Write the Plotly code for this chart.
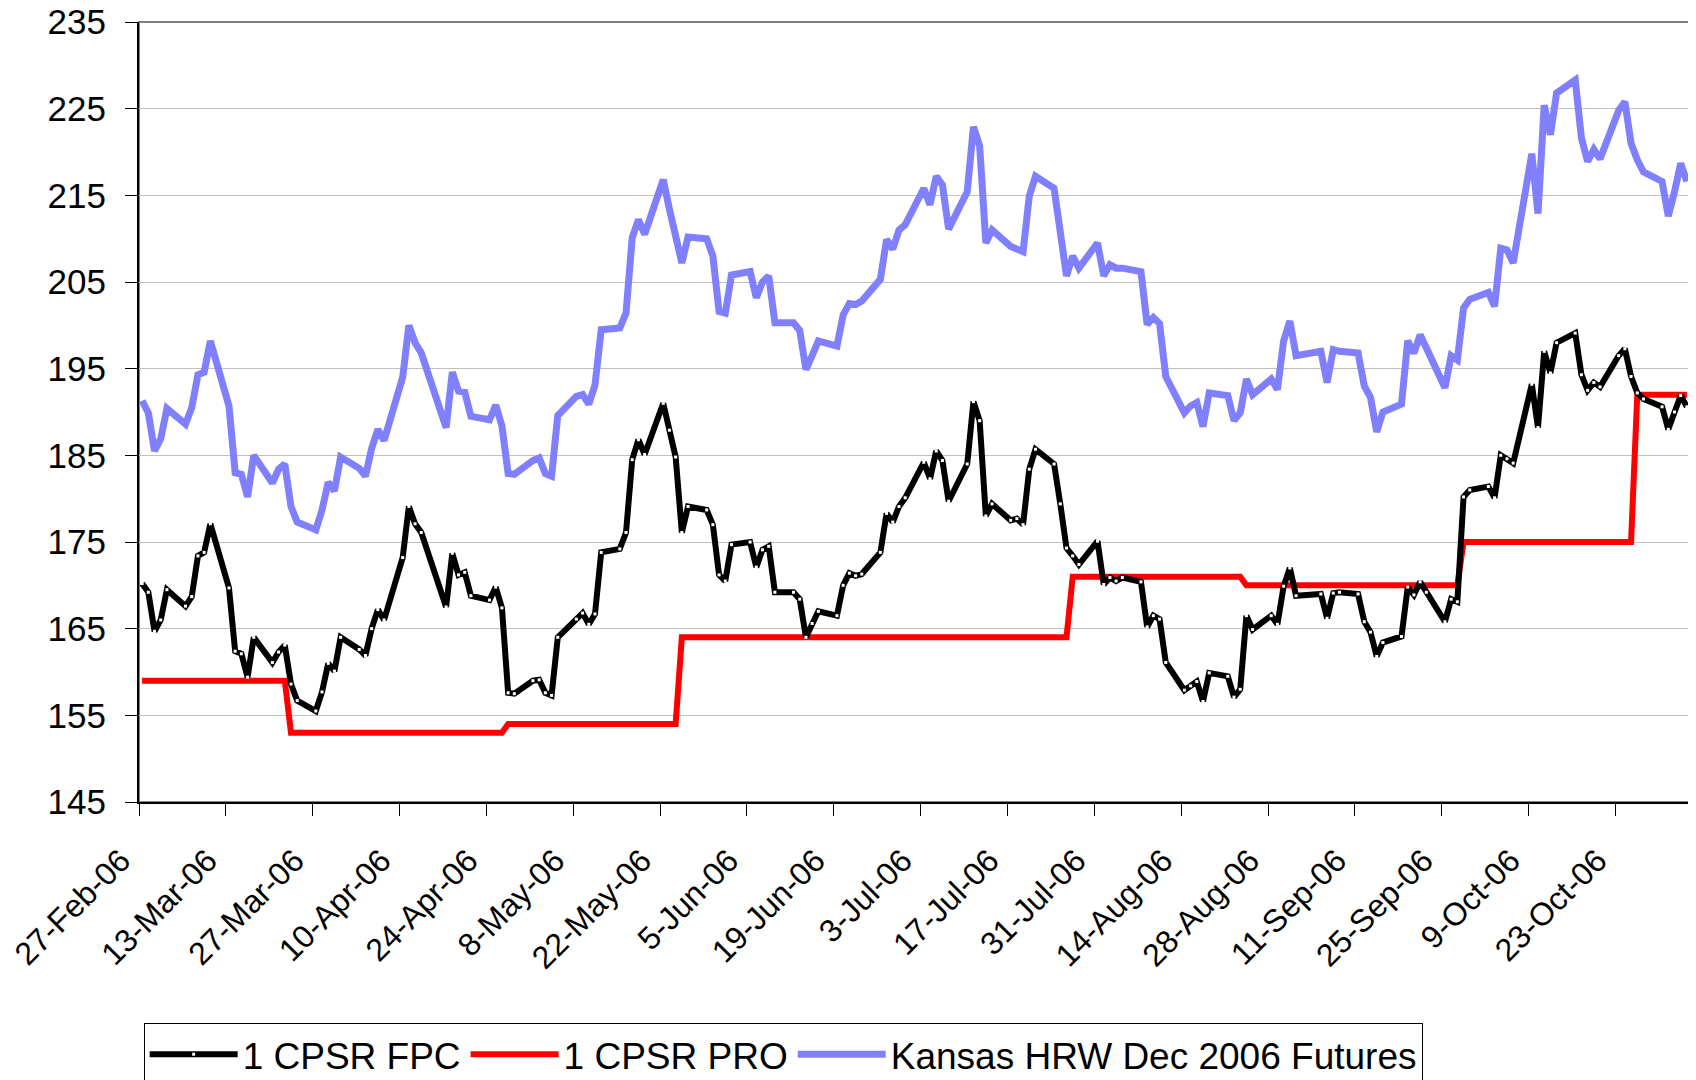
import pandas as pd
import plotly.graph_objects as go

# trading days in the sheet (Good Friday and Labor Day are missing)
days = pd.bdate_range("2006-02-27", "2006-11-03")
days = days[~days.isin(pd.to_datetime(["2006-04-14", "2006-09-04"]))]

# 1 CPSR FPC, one row per week
fpc = [
    170.2, 169.2, 164.7, 166.0, 169.5,
    167.6, 168.7, 173.4, 173.8, 177.1,
    169.7, 162.4, 162.1, 159.4, 164.0,
    161.1, 162.3, 163.1, 158.6, 156.7,
    155.5, 157.7, 161.0, 160.1, 164.0,
    162.6, 161.9, 165.0, 167.2, 166.0,
    173.2, 179.1, 177.1, 176.1,
    167.5, 173.7, 171.2, 171.5, 168.8,
    168.3, 169.8, 167.4, 157.6, 157.5,
    159.0, 159.1, 157.6, 157.3, 164.0,
    166.1, 166.8, 165.5, 166.7, 173.8,
    174.2, 176.1, 184.5, 186.8, 185.1,
    191.0, 187.9, 184.8, 176.1, 179.1,
    178.7, 177.0, 171.2, 170.5, 174.7,
    175.0, 172.1, 174.1, 174.5, 169.2,
    169.2, 168.4, 164.0, 165.6, 167.0,
    166.5, 170.0, 171.4, 171.1, 171.3,
    173.8, 178.3, 177.3, 179.1, 180.1,
    184.2, 182.3, 185.5, 184.4, 179.7,
    184.0, 191.2, 189.0, 178.0, 179.4,
    177.5, 177.7, 177.0, 183.4, 185.7,
    184.0, 179.4, 174.3, 173.4, 172.4,
    175.1, 170.1, 170.9, 170.5, 170.9,
    170.4, 165.2, 166.5, 166.1, 161.1,
    157.9, 158.4, 158.9, 156.6, 159.9,
    159.5, 157.1, 158.0, 166.5, 164.9,
    166.5, 165.5, 169.9, 172.0, 168.8,
    169.0, 166.2, 169.1, 169.2,
    169.0, 165.8, 164.6, 161.8, 163.4,
    164.1, 169.8, 168.9, 170.4, 169.2,
    165.8, 168.4, 168.1, 180.2, 181.0,
    181.4, 180.1, 185.0, 184.6, 184.1,
    193.2, 188.2, 197.0, 194.5, 198.0,
    199.1, 194.3, 192.5, 193.4, 192.9,
    196.5, 197.3, 194.1, 192.2, 191.5,
    190.6, 188.0, 190.0, 191.9, 190.6,
]

# Kansas HRW Dec 2006 futures
kansas = [
    191.3, 189.9, 185.5, 186.9, 190.4,
    188.6, 190.5, 194.3, 194.6, 198.2,
    190.7, 183.0, 182.8, 180.2, 185.0,
    181.8, 183.4, 184.0, 179.1, 177.3,
    176.4, 178.7, 181.9, 180.9, 184.8,
    183.5, 182.6, 185.8, 188.0, 186.7,
    194.0, 200.0, 198.0, 196.8,
    188.2, 194.6, 192.4, 192.3, 189.5,
    189.1, 190.8, 188.4, 182.9, 182.8,
    184.4, 184.7, 182.9, 182.6, 189.6,
    191.8, 192.0, 190.9, 193.1, 199.5,
    199.7, 201.4, 210.1, 212.2, 210.5,
    216.8, 213.4, 210.2, 207.2, 210.2,
    210.0, 208.0, 201.6, 201.4, 205.8,
    206.2, 203.2, 205.0, 205.7, 200.3,
    200.3, 199.4, 194.9, 196.5, 198.2,
    197.6, 201.2, 202.5, 202.4, 202.8,
    205.3, 209.9, 208.8, 211.0, 211.6,
    215.8, 213.9, 217.2, 216.2, 211.1,
    215.4, 222.9, 220.7, 209.5, 211.0,
    209.1, 208.8, 208.5, 214.9, 217.2,
    215.8, 211.0, 205.7, 208.0, 206.6,
    209.5, 205.7, 207.0, 206.6, 206.6,
    206.2, 200.1, 200.9, 200.2, 194.1,
    189.9, 190.7, 191.1, 188.3, 192.2,
    191.9, 189.0, 189.9, 193.8, 192.0,
    193.8, 192.6, 198.2, 200.5, 196.5,
    197.0, 193.4, 197.2, 197.0,
    196.8, 193.0, 191.7, 187.7, 190.0,
    190.9, 198.2, 196.8, 198.9, 197.4,
    192.8, 196.5, 196.0, 202.0, 203.0,
    203.8, 202.2, 208.9, 208.7, 207.2,
    219.8, 212.9, 225.4, 222.0, 226.8,
    228.3, 221.6, 218.9, 220.3, 219.2,
    224.8, 225.8, 221.0, 219.1, 217.7,
    216.6, 212.6, 215.4, 218.7, 216.6,
]

# 1 CPSR PRO only changes now and then
pro_change = pd.to_datetime(["2006-02-27", "2006-03-23", "2006-04-27", "2006-05-25",
                             "2006-07-27", "2006-08-24", "2006-09-28", "2006-10-26"])
pro_level = [159, 153, 154, 164, 171, 170, 175, 192]
pro = [pro_level[pro_change.searchsorted(d, side="right") - 1] for d in days]

x = days + pd.Timedelta(hours=12)  # excel puts each point in the middle of its day

fig = go.Figure()
fig.add_trace(go.Scatter(x=x, y=kansas, name="Kansas HRW Dec 2006 Futures", mode="lines",
                         line=dict(color="#8080FF", width=7), legendrank=3))
fig.add_trace(go.Scatter(x=x, y=pro, name="1 CPSR PRO", mode="lines",
                         line=dict(color="#FF0000", width=6), legendrank=2))
fig.add_trace(go.Scatter(x=x, y=fpc, name="1 CPSR FPC", mode="lines+markers",
                         line=dict(color="black", width=6),
                         marker=dict(symbol="square", size=3, color="white"), legendrank=1))

# page body has an 8px margin, so the margins are 8px smaller than the target
fig.update_layout(
    width=1696, height=1080,
    paper_bgcolor="white", plot_bgcolor="white",
    margin=dict(l=131, r=14, t=14, b=286, autoexpand=False),
    font=dict(family="Liberation Sans, Arial, sans-serif", size=35, color="black"),
    legend=dict(orientation="h", x=0.003, xanchor="left", y=-0.283, yanchor="top",
                bordercolor="black", borderwidth=1, bgcolor="white",
                font=dict(size=37), itemwidth=88),
    shapes=[dict(type="rect", xref="paper", yref="paper", x0=0, x1=1, y0=0, y1=1,
                 line=dict(color="#808080", width=2), layer="below")],
)
fig.update_xaxes(type="date", range=["2006-02-27", "2006-11-04"], tick0="2006-02-27",
                 dtick=14 * 86400000, tickformat="%-d-%b-%y", tickangle=-45,
                 tickfont=dict(size=32), ticklabelshift=-18, ticklabelstandoff=13,
                 ticklabeloverflow="allow",
                 ticks="outside", ticklen=12, tickcolor="black",
                 showline=True, linecolor="black", linewidth=2,
                 showgrid=False, zeroline=False)
fig.update_yaxes(range=[145, 235], tick0=145, dtick=10, ticks="outside", ticklen=12,
                 tickcolor="black", showline=True, linecolor="black", linewidth=2,
                 gridcolor="#C0C0C0", gridwidth=1, zeroline=False,
                 ticklabelstandoff=12, ticklabeloverflow="allow")

fig.write_html("out.html")
